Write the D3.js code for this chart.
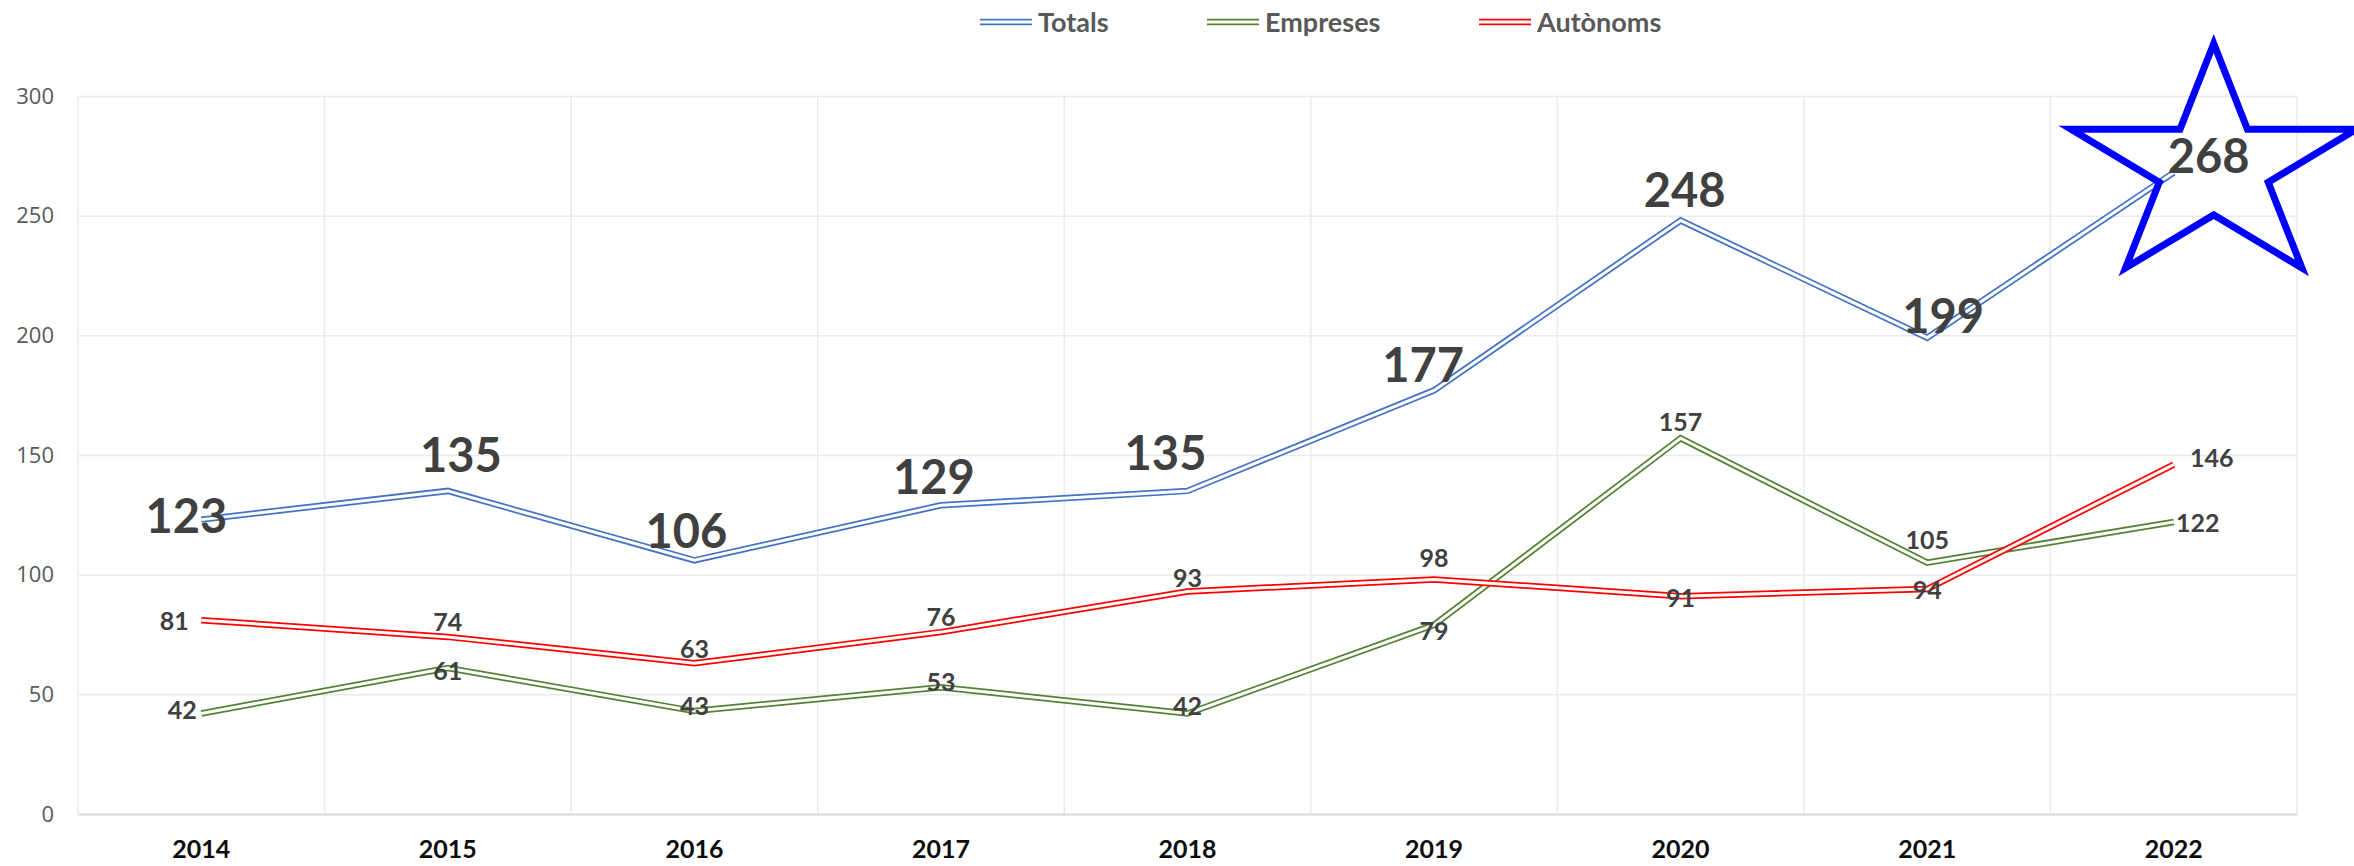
<!DOCTYPE html>
<html>
<head>
<meta charset="utf-8">
<script src="https://cdn.jsdelivr.net/npm/d3@7"></script>
<style>
	body { margin: 0; background: #ffffff; }
</style>
</head>
<body>
<script>
// chart values
var years = ["2014","2015","2016","2017","2018","2019","2020","2021","2022"];
var totals = [123,135,106,129,135,177,248,199,268];
var empreses = [42,61,43,53,42,79,157,105,122];
var autonoms = [81,74,63,76,93,98,91,94,146];
var yTicks = [0,50,100,150,200,250,300];
var seriesNames = ["Totals","Empreses","Autònoms"];

// label nudges (dx, dy from the point to the label centre)
var totalsNudge = [[-15,-4],[13,-36],[-8,-29],[-7,-28],[-22,-38],[-11,-25],[4,-30],[16,-22],[35,-17]];
var empresesNudge = [[-19,-3],[0,3],[0,-5],[0,-5],[0,-7],[0,6],[0,-16],[0,-23],[24,1]];
var autonomsNudge = [[-27,1],[0,-15],[0,-14],[0,-15],[0,-13],[0,-21],[0,2],[0,1],[38,-7]];

function init(){
	var w = 2354;
	var h = 866;
	var left = 78;
	var right = 2297;
	var top = 96;
	var bottom = 814;
	var colors = ["#4472C4","#548235","#FF0000"];

	var series = [
		{name: seriesNames[0], values: totals, nudge: totalsNudge, color: colors[0], size: 47},
		{name: seriesNames[1], values: empreses, nudge: empresesNudge, color: colors[1], size: 25},
		{name: seriesNames[2], values: autonoms, nudge: autonomsNudge, color: colors[2], size: 25}
	];

	var svg = d3.select("body")
		.append("svg")
		.attr("width", w)
		.attr("height", h)
		.style("font-family", "Lato, 'Open Sans', sans-serif");

	var xScale = d3.scaleBand()
		.domain(years)
		.range([left, right]);

	var yScale = d3.scaleLinear()
		.domain([0, 300])
		.range([bottom, top]);

	function cx(i){
		return xScale(years[i]) + xScale.bandwidth() / 2;
	}

	// horizontal grid + y labels
	var yAxis = d3.axisLeft(yScale)
		.tickValues(yTicks)
		.tickSize(-(right - left))
		.tickPadding(24);

	var gy = svg.append("g")
		.attr("transform", "translate(" + left + ",0)")
		.call(yAxis);
	gy.select(".domain").remove();
	gy.selectAll("line")
		.attr("stroke", "#EBEBEB")
		.attr("stroke-width", 1.5);
	gy.selectAll("text")
		.style("font-family", "'Open Sans', sans-serif")
		.style("font-size", "22px")
		.attr("fill", "#595959");

	// vertical grid at band edges
	var edges = years.map(function(d){ return xScale(d); });
	edges.push(right);
	svg.append("g")
		.selectAll("line")
		.data(edges)
		.enter()
		.append("line")
		.attr("x1", function(d){ return d; })
		.attr("x2", function(d){ return d; })
		.attr("y1", top)
		.attr("y2", bottom)
		.attr("stroke", "#EBEBEB")
		.attr("stroke-width", 1.5);

	// x axis
	var xAxis = d3.axisBottom(xScale)
		.tickSize(0);
	var gx = svg.append("g")
		.attr("transform", "translate(0," + bottom + ")")
		.call(xAxis);
	gx.select(".domain")
		.attr("stroke", "#D9D9D9")
		.attr("stroke-width", 2);
	gx.selectAll("text")
		.attr("y", 44)
		.attr("dy", 0)
		.style("font-family", "Lato, sans-serif")
		.style("font-weight", "bold")
		.style("font-size", "25px")
		.attr("fill", "#0D0D0D");

	// double lines
	var line = d3.line()
		.x(function(d, i){ return cx(i); })
		.y(function(d){ return yScale(d); });

	series.forEach(function(s){
		svg.append("path")
			.datum(s.values)
			.attr("d", line)
			.attr("fill", "none")
			.attr("stroke", s.color)
			.attr("stroke-width", 6.5)
			.attr("stroke-linejoin", "miter");
		svg.append("path")
			.datum(s.values)
			.attr("d", line)
			.attr("fill", "none")
			.attr("stroke", "#ffffff")
			.attr("stroke-width", 3)
			.attr("stroke-linejoin", "miter");
	});

	// star round the last total
	var last = totals.length - 1;
	var sx = cx(last) + 40;
	var sy = yScale(totals[last]) - 5;
	var rx = 150, ry = 124, inner = 0.382;
	var pts = [];
	for (var k = 0; k < 10; k++){
		var a = -Math.PI / 2 + k * Math.PI / 5;
		var r = (k % 2 === 0) ? 1 : inner;
		pts.push([sx + Math.cos(a) * rx * r, sy + Math.sin(a) * ry * r]);
	}
	svg.append("path")
		.attr("d", "M" + pts.join("L") + "Z")
		.attr("fill", "none")
		.attr("stroke", "#0000FF")
		.attr("stroke-width", 7)
		.attr("stroke-linejoin", "miter");

	// data labels
	series.forEach(function(s){
		svg.append("g")
			.selectAll("text")
			.data(s.values)
			.enter()
			.append("text")
			.attr("x", function(d, i){ return cx(i) + s.nudge[i][0]; })
			.attr("y", function(d, i){ return yScale(d) + s.nudge[i][1]; })
			.attr("dy", "0.36em")
			.attr("text-anchor", "middle")
			.style("font-size", s.size + "px")
			.style("font-weight", "bold")
			.attr("fill", "#404040")
			.text(function(d){ return d; });
	});

	// legend
	var legendX = [980, 1207, 1479];
	var legendY = 22;
	var lg = svg.append("g")
		.selectAll("g")
		.data(series)
		.enter()
		.append("g")
		.attr("transform", function(d, i){ return "translate(" + legendX[i] + "," + legendY + ")"; });
	lg.append("line")
		.attr("x1", 0).attr("x2", 52)
		.attr("y1", 0).attr("y2", 0)
		.attr("stroke", function(d){ return d.color; })
		.attr("stroke-width", 6.5);
	lg.append("line")
		.attr("x1", 0).attr("x2", 52)
		.attr("y1", 0).attr("y2", 0)
		.attr("stroke", "#ffffff")
		.attr("stroke-width", 3);
	lg.append("text")
		.attr("x", 58)
		.attr("dy", "0.36em")
		.style("font-size", "27px")
		.style("font-weight", "bold")
		.attr("fill", "#595959")
		.text(function(d){ return d.name; });
}

window.onload = init;
</script>
</body>
</html>
